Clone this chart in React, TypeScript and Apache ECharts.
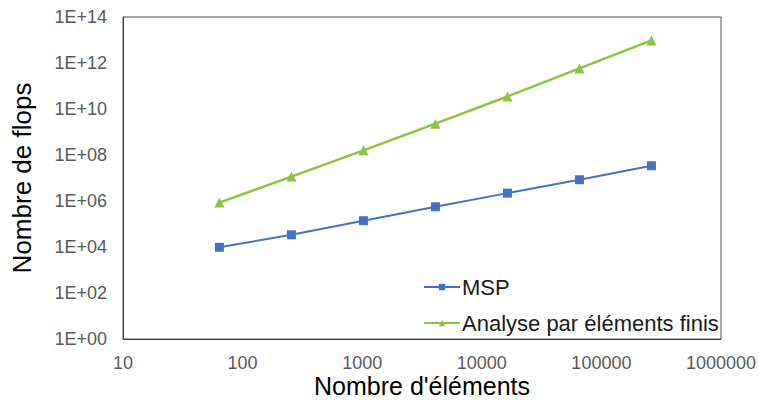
import React, { useEffect, useRef } from "react";
import * as echarts from "echarts";

const elements = [64, 256, 1024, 4096, 16384, 65536, 262144];
const mspFlops = [9.7e3, 3.4e4, 1.39e5, 5.6e5, 2.2e6, 8.4e6, 3.4e7];
const femFlops = [8.5e5, 1.15e7, 1.6e8, 2.3e9, 3.5e10, 5.8e11, 9.6e12];
const seriesNames = ["MSP", "Analyse par éléments finis"];
const xAxisTitle = "Nombre d'éléments";
const yAxisTitle = "Nombre de flops";

const FONT = "'Liberation Sans', Arial, sans-serif";

export default function App() {
  const ref = useRef<HTMLDivElement>(null);
  useEffect(() => {
    if (!ref.current) return;
    const chart = echarts.init(ref.current, undefined, { renderer: "svg" });
    chart.setOption({
      animation: false,
      backgroundColor: "#ffffff",
      textStyle: { fontFamily: FONT },
      grid: {
        left: 123,
        top: 17,
        right: 38,
        bottom: 61,
        show: true,
        borderColor: "#505050",
        borderWidth: 1,
        containLabel: false,
        outerBoundsMode: "none",
      },
      legend: {
        orient: "vertical",
        left: 418,
        top: 271,
        itemWidth: 36,
        itemHeight: 8,
        itemGap: 14,
        textStyle: { fontFamily: FONT, fontSize: 22, color: "#1a1a1a", padding: [0, 0, 0, -3] },
        data: seriesNames,
      },
      xAxis: {
        type: "log",
        logBase: 10,
        min: 10,
        max: 1000000,
        interval: 1,
        name: xAxisTitle,
        nameLocation: "middle",
        nameGap: 34,
        nameMoveOverlap: false,
        nameTextStyle: { fontFamily: FONT, fontSize: 25, lineHeight: 25, color: "#000" },
        axisLine: { show: true, lineStyle: { color: "#404040", width: 1 } },
        axisTick: { show: false },
        splitLine: { show: false },
        axisLabel: {
          fontFamily: FONT,
          fontSize: 18,
          lineHeight: 18,
          color: "#595959",
          margin: 15,
          formatter: (v: number) => String(Math.round(v)),
        },
      },
      yAxis: {
        type: "log",
        logBase: 10,
        min: 1,
        max: 1e14,
        interval: 2,
        name: yAxisTitle,
        nameLocation: "middle",
        nameGap: 88,
        nameMoveOverlap: false,
        nameTextStyle: { fontFamily: FONT, fontSize: 26, color: "#000" },
        axisLine: { show: true, lineStyle: { color: "#404040", width: 1 } },
        axisTick: { show: false },
        splitLine: { show: false },
        axisLabel: {
          fontFamily: FONT,
          fontSize: 18,
          color: "#595959",
          margin: 16,
          formatter: (v: number) => {
            const e = Math.round(Math.log10(v));
            return "1E+" + (e < 10 ? "0" + e : String(e));
          },
        },
      },
      series: [
        {
          name: seriesNames[0],
          type: "line",
          data: elements.map((x, i) => [x, mspFlops[i]]),
          symbol: "rect",
          symbolSize: 9,
          lineStyle: { color: "#4472C4", width: 2 },
          itemStyle: { color: "#4472C4" },
        },
        {
          name: seriesNames[1],
          type: "line",
          data: elements.map((x, i) => [x, femFlops[i]]),
          symbol: "triangle",
          symbolSize: 10,
          lineStyle: { color: "#8CC43F", width: 2.5 },
          itemStyle: { color: "#8CC43F" },
        },
      ],
    });
    return () => chart.dispose();
  }, []);
  return <div ref={ref} style={{ width: 759, height: 400, position: "absolute", left: 0, top: 0 }} />;
}
